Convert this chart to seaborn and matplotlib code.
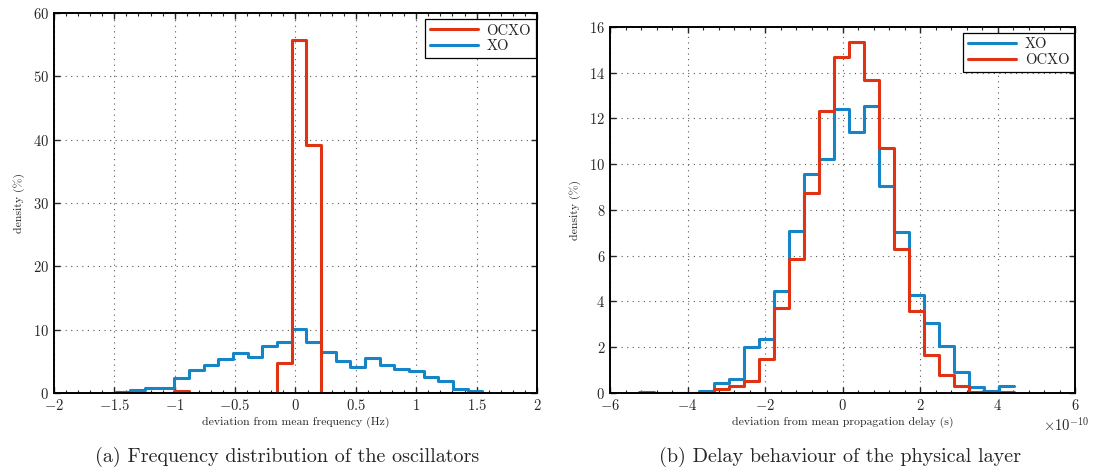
import numpy as np
import pandas as pd
import matplotlib
matplotlib.use("Agg")
import matplotlib.pyplot as plt
from matplotlib.lines import Line2D
from matplotlib.ticker import MultipleLocator, FuncFormatter
import seaborn as sns

# left panel: frequency deviation (Hz), 25 bins of equal width
freq_start = -1.49
freq_width = 0.1215
freq_xo = [0.15, 0.4, 0.85, 0.85, 2.3, 3.7, 4.4, 5.4, 6.3, 5.7, 7.4, 8.0, 10.1,
           8.05, 6.4, 5.05, 4.1, 5.5, 4.4, 3.8, 3.4, 2.5, 1.85, 0.7, 0.3]
freq_ocxo = [0.1, 0.05, 0.05, 0.05, 0.25, 0.05, 0.05, 0.05, 0.05, 0.05, 0.05, 4.8, 55.8,
             39.1, 0, 0, 0, 0, 0, 0, 0, 0, 0, 0]

# right panel: propagation delay deviation (units of 1e-10 s)
delay_start = -5.26
delay_width = 0.387
delay_xo = [0.06, 0, 0, 0, 0.07, 0.42, 0.61, 1.99, 2.38, 4.46, 7.10, 9.57, 10.23,
            12.41, 11.42, 12.54, 9.07, 7.03, 4.29, 3.07, 2.06, 0.93, 0.28, 0.07, 0.32]
delay_ocxo = [0, 0, 0, 0, 0, 0.17, 0.29, 0.52, 1.48, 3.70, 5.87, 8.74, 12.32,
              14.71, 15.33, 13.70, 10.72, 6.28, 3.60, 1.65, 0.78, 0.32, 0.03, 0.03, 0.03]

blue = "#1585C8"
red = "#E03314"

sns.set_style("ticks")
plt.rcParams["font.family"] = "serif"
plt.rcParams["font.serif"] = ["cmr10", "DejaVu Serif"]
plt.rcParams["mathtext.fontset"] = "cm"
plt.rcParams["axes.formatter.use_mathtext"] = True
plt.rcParams["axes.unicode_minus"] = True


def make_hist(start, width, values, scale=1.0):
    edges = (start + width * np.arange(len(values) + 1)) * scale
    centers = (edges[:-1] + edges[1:]) / 2
    return pd.DataFrame({"x": centers, "density": values}), edges.tolist()


def draw(ax, series, order):
    for name, (start, width, vals, scale, col) in series.items():
        df, edges = make_hist(start, width, vals, scale)
        sns.histplot(data=df, x="x", weights="density", bins=edges, element="step",
                     fill=False, color=col, linewidth=2.2, ax=ax)
    handles = [Line2D([], [], color=series[n][4], lw=2.2) for n in order]
    leg = ax.legend(handles, order, loc="upper right", bbox_to_anchor=(0.997, 0.983),
                    borderaxespad=0, fancybox=False, framealpha=1, edgecolor="black",
                    fontsize=10.5, handlelength=3.3, borderpad=0.3, labelspacing=0.15,
                    handletextpad=0.6)
    leg.get_frame().set_linewidth(0.9)
    ax.set_ylabel("density (%)", fontsize=8.5, labelpad=6)
    ax.grid(True, which="major", linestyle=(0, (1, 4)), color="0.35", linewidth=0.8)
    ax.tick_params(which="both", direction="in", top=True, right=True, labelsize=10.5)
    ax.tick_params(which="major", length=4, width=1)
    ax.tick_params(which="minor", length=2.5, width=0.8)
    for s in ax.spines.values():
        s.set_linewidth(1.4)
        s.set_color("black")


fig = plt.figure(figsize=(10.97, 4.72), dpi=100)
ax1 = fig.add_axes([0.0492, 0.1674, 0.4403, 0.8051])
ax2 = fig.add_axes([0.5561, 0.1674, 0.4239, 0.7754])

draw(ax1, {"XO": (freq_start, freq_width, freq_xo, 1.0, blue),
           "OCXO": (freq_start, freq_width, freq_ocxo, 1.0, red)}, ["OCXO", "XO"])
ax1.set_xlim(-2, 2)
ax1.set_ylim(0, 60)
ax1.xaxis.set_major_locator(MultipleLocator(0.5))
ax1.xaxis.set_minor_locator(MultipleLocator(0.1))
ax1.xaxis.set_major_formatter(FuncFormatter(lambda v, p: f"${v:g}$"))
ax1.yaxis.set_major_locator(MultipleLocator(10))
ax1.set_xlabel("deviation from mean frequency (Hz)", fontsize=8.5, labelpad=3)

draw(ax2, {"XO": (delay_start, delay_width, delay_xo, 1e-10, blue),
           "OCXO": (delay_start, delay_width, delay_ocxo, 1e-10, red)}, ["XO", "OCXO"])
ax2.set_xlim(-6e-10, 6e-10)
ax2.set_ylim(0, 16)
ax2.xaxis.set_major_locator(MultipleLocator(2e-10))
ax2.xaxis.set_minor_locator(MultipleLocator(0.4e-10))
ax2.yaxis.set_major_locator(MultipleLocator(2))
ax2.ticklabel_format(axis="x", style="sci", scilimits=(0, 0), useMathText=True)
ax2.xaxis.get_offset_text().set_fontsize(10.5)
ax2.xaxis.get_offset_text().set_x(1.03)
ax2.set_xlabel("deviation from mean propagation delay (s)", fontsize=8.5, labelpad=3)

fig.text(0.262, 0.021, "(a) Frequency distribution of the oscillators", ha="center",
         va="baseline", fontsize=14.5)
fig.text(0.766, 0.021, "(b) Delay behaviour of the physical layer", ha="center",
         va="baseline", fontsize=14.5)

fig.savefig("out.png", dpi=100)
